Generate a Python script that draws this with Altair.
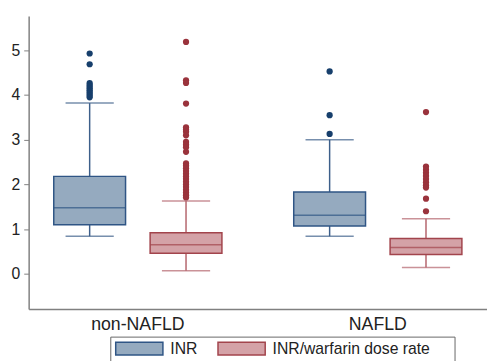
import altair as alt
import pandas as pd

# ---------------- data ----------------
groups = ["non-NAFLD", "NAFLD"]
series = ["INR", "INR/warfarin dose rate"]

box_group = ["non-NAFLD", "non-NAFLD", "NAFLD", "NAFLD"]
box_series = ["INR", "INR/warfarin dose rate", "INR", "INR/warfarin dose rate"]
whisker_low = [0.84, 0.07, 0.84, 0.14]
q1 = [1.10, 0.46, 1.07, 0.43]
median = [1.48, 0.65, 1.31, 0.59]
q3 = [2.18, 0.92, 1.83, 0.79]
whisker_high = [3.82, 1.63, 3.00, 1.23]

out_non_inr = [4.93, 4.69, 4.27, 4.23, 4.19, 4.15, 4.11, 4.07, 4.03, 3.99, 3.95]
out_non_ratio = [5.19, 4.33, 4.27, 3.81, 3.28, 3.23, 3.18, 3.10, 2.95, 2.89, 2.83,
                 2.73, 2.47, 2.42, 2.36, 2.30, 2.24, 2.18, 2.12, 2.06, 2.00, 1.94,
                 1.88, 1.82, 1.76, 1.71]
out_naf_inr = [4.53, 3.55, 3.13]
out_naf_ratio = [3.62, 2.40, 2.33, 2.26, 2.19, 2.12, 2.05, 1.98, 1.93, 1.68, 1.40]

# ---------------- styles ----------------
fill_colors = ["#95aabf", "#d4a2a7"]
stroke_colors = ["#2f5585", "#a2444c"]
whisker_colors = {"INR": "#3d5f8a", "INR/warfarin dose rate": "#b4646c"}
median_colors = {"INR": "#2f5585", "INR/warfarin dose rate": "#a2444c"}
dot_colors = {"INR": "#173f6c", "INR/warfarin dose rate": "#9a333c"}
FONT = "Liberation Sans"
BLANK = "\u00a0"  # invisible legend title used only to pad the legend box on the right

boxes = pd.DataFrame({
    "group": box_group, "series": box_series,
    "low": whisker_low, "q1": q1, "median": median, "q3": q3, "high": whisker_high,
})
boxes["wcol"] = boxes["series"].map(whisker_colors)
boxes["mcol"] = boxes["series"].map(median_colors)

rows = []
for g, s, vals in [("non-NAFLD", "INR", out_non_inr),
                   ("non-NAFLD", "INR/warfarin dose rate", out_non_ratio),
                   ("NAFLD", "INR", out_naf_inr),
                   ("NAFLD", "INR/warfarin dose rate", out_naf_ratio)]:
    for v in vals:
        rows.append({"group": g, "series": s, "value": v})
outliers = pd.DataFrame(rows)
outliers["dcol"] = outliers["series"].map(dot_colors)

x_enc = alt.X("group:N", sort=groups,
              scale=alt.Scale(paddingInner=0.09, paddingOuter=0),
              axis=alt.Axis(title=None, ticks=False, labelAngle=0, labelFontSize=18,
                            labelFont=FONT, labelColor="#222222", labelPadding=7,
                            domainColor="#808080", domainWidth=1.5))
xo_enc = alt.XOffset("series:N", sort=series,
                     scale=alt.Scale(paddingOuter=0.133, paddingInner=0))
yscale = alt.Scale(domain=[-0.79, 5.77], nice=False, zero=False)
yaxis = alt.Axis(title=None, values=[0, 1, 2, 3, 4, 5], grid=False, tickSize=5,
                 labelPadding=4, labelFontSize=16, labelFont=FONT, labelColor="#222222",
                 tickColor="#808080", domainColor="#808080", domainWidth=1.5)

base_box = alt.Chart(boxes)

lower_whisker = base_box.mark_rule(strokeWidth=1.5).encode(
    x=x_enc, xOffset=xo_enc,
    y=alt.Y("low:Q", scale=yscale, axis=yaxis), y2="q1:Q",
    color=alt.Color("wcol:N", scale=None))
upper_whisker = base_box.mark_rule(strokeWidth=1.5).encode(
    x=x_enc, xOffset=xo_enc,
    y=alt.Y("q3:Q", scale=yscale, axis=yaxis), y2="high:Q",
    color=alt.Color("wcol:N", scale=None))
low_cap = base_box.mark_tick(size=49, thickness=1.5).encode(
    x=x_enc, xOffset=xo_enc, y=alt.Y("low:Q", scale=yscale, axis=yaxis),
    color=alt.Color("wcol:N", scale=None))
high_cap = base_box.mark_tick(size=49, thickness=1.5).encode(
    x=x_enc, xOffset=xo_enc, y=alt.Y("high:Q", scale=yscale, axis=yaxis),
    color=alt.Color("wcol:N", scale=None))
bars = base_box.mark_bar(size=73, strokeWidth=1.5).encode(
    x=x_enc, xOffset=xo_enc,
    y=alt.Y("q1:Q", scale=yscale, axis=yaxis), y2="q3:Q",
    fill=alt.Fill("series:N", sort=series,
                  scale=alt.Scale(domain=series, range=fill_colors),
                  legend=alt.Legend(title=BLANK)),
    stroke=alt.Stroke("series:N", sort=series,
                      scale=alt.Scale(domain=series, range=stroke_colors),
                      legend=alt.Legend(title=BLANK)))
med = base_box.mark_tick(size=73, thickness=1.5).encode(
    x=x_enc, xOffset=xo_enc, y=alt.Y("median:Q", scale=yscale, axis=yaxis),
    color=alt.Color("mcol:N", scale=None))
dots = alt.Chart(outliers).mark_circle(size=40, opacity=1).encode(
    x=x_enc, xOffset=xo_enc, y=alt.Y("value:Q", scale=yscale, axis=yaxis),
    color=alt.Color("dcol:N", scale=None))

chart = alt.layer(lower_whisker, upper_whisker, low_cap, high_cap, bars, med, dots).properties(
    width=466, height=298,
    autosize=alt.AutoSizeParams(type="none"),
    padding={"left": 21, "top": 5, "right": 0, "bottom": 70},
).configure_view(strokeWidth=0).configure_legend(
    orient="none", legendX=83, legendY=326, direction="horizontal",
    strokeColor="#666666", padding=4,
    symbolType="M-3.692,-1L3.692,-1L3.692,1L-3.692,1Z",
    symbolSize=169, symbolStrokeWidth=1.5, symbolOffset=17.5,
    labelFontSize=16, labelFont=FONT,
    labelColor="#222222", labelOffset=23.5, columnPadding=17, labelLimit=300,
    titleOrient="right", titlePadding=21, titleFontSize=16,
)

chart.save("out.html", embed_options={"renderer": "svg", "actions": False})
